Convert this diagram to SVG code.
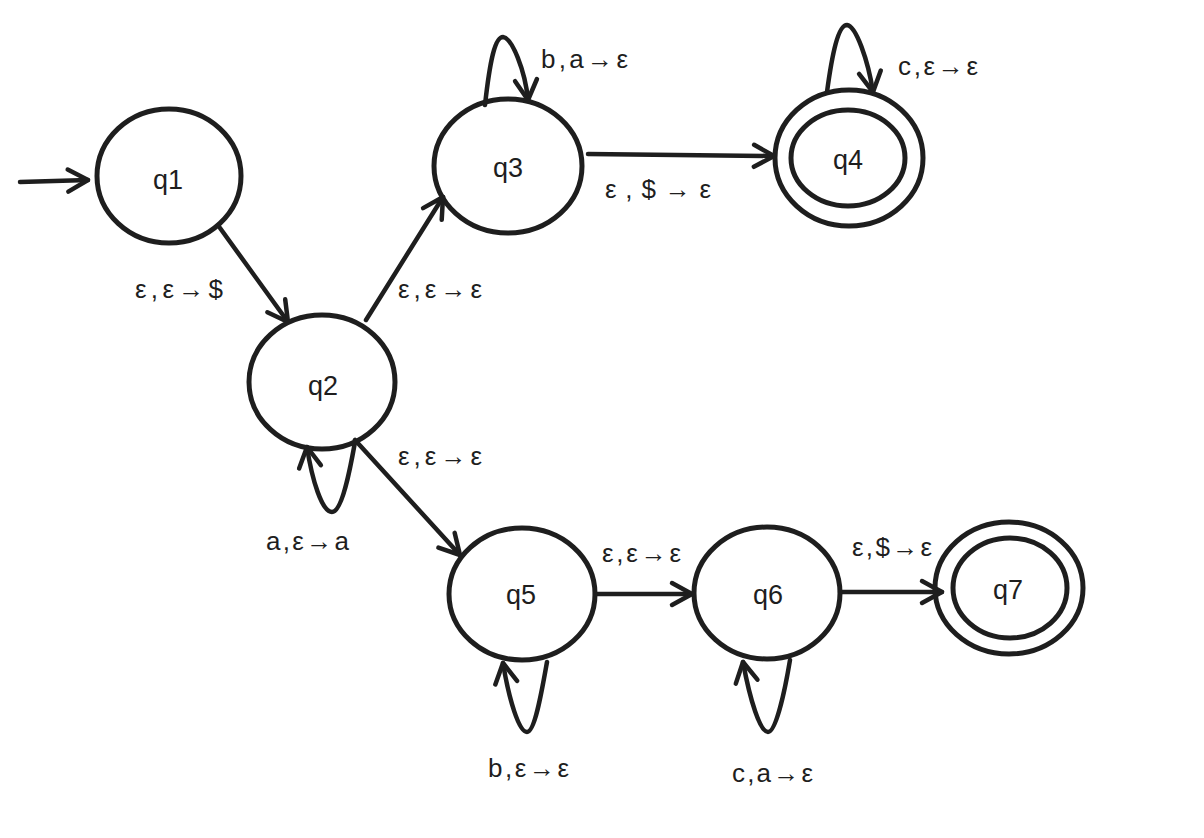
<svg xmlns="http://www.w3.org/2000/svg" width="1204" height="838" viewBox="0 0 1204 838">
<style>
.st{fill:none;stroke:#1e1e1e;stroke-width:5}
.e{fill:none;stroke:#1e1e1e;stroke-width:4.5;stroke-linecap:round;marker-end:url(#ah)}
.t{font-family:"Liberation Sans","DejaVu Sans",sans-serif;font-size:27px;fill:#1e1e1e;text-anchor:middle}
.l{font-family:"Liberation Sans","DejaVu Sans",sans-serif;font-size:26px;fill:#1e1e1e}
</style>
<defs>
<marker id="ah" markerUnits="userSpaceOnUse" viewBox="-2 -2 26 28" refX="22" refY="12" markerWidth="26" markerHeight="28" orient="auto" overflow="visible">
<path d="M2,1 L22,12 L2,23" fill="none" stroke="#1e1e1e" stroke-width="4.5" stroke-linecap="round" stroke-linejoin="round"/>
</marker>
</defs>
<rect width="1204" height="838" fill="#ffffff"/>
<g id="connectors">
<path class="e" d="M20,182 L88,180"/>
<path class="e" d="M220,228 L288,322"/>
<path class="e" d="M366,320 L443,197"/>
<path class="e" d="M588,154 L774,156"/>
<path class="e" d="M355,440 L460,555"/>
<path class="e" d="M595,594 L692,594"/>
<path class="e" d="M840,592 L942,592"/>
<path class="e" d="M485,105 C490,60 495,37 503,37 C512,38 525,70 528,100"/>
<path class="e" d="M827,92 C832,55 838,25 847,25 C856,26 868,60 873,92"/>
<path class="e" d="M355,442 C350,470 342,512 332,512 C322,512 312,480 307,447"/>
<path class="e" d="M547,662 C542,690 535,732 527,732 C519,732 509,700 503,663"/>
<path class="e" d="M790,660 C785,690 776,732 768,732 C760,732 750,700 743,662"/>
<text class="l" x="135" y="298" textLength="88" lengthAdjust="spacing">ε,ε→$</text>
<text class="l" x="398" y="298" textLength="84" lengthAdjust="spacing">ε,ε→ε</text>
<text class="l" x="541" y="68" textLength="87" lengthAdjust="spacing">b,a→ε</text>
<text class="l" x="605" y="198" textLength="106" lengthAdjust="spacing">ε,$→ε</text>
<text class="l" x="898" y="75" textLength="80" lengthAdjust="spacing">c,ε→ε</text>
<text class="l" x="398" y="465" textLength="84" lengthAdjust="spacing">ε,ε→ε</text>
<text class="l" x="266" y="550" textLength="83" lengthAdjust="spacing">a,ε→a</text>
<text class="l" x="602" y="562" textLength="79" lengthAdjust="spacing">ε,ε→ε</text>
<text class="l" x="488" y="777" textLength="81" lengthAdjust="spacing">b,ε→ε</text>
<text class="l" x="732" y="782" textLength="81" lengthAdjust="spacing">c,a→ε</text>
<text class="l" x="852" y="556" textLength="80" lengthAdjust="spacing">ε,$→ε</text>
</g>
<g id="q1"><ellipse class="st" cx="169" cy="176" rx="72" ry="67"/><text class="t" x="168" y="189">q1</text></g>
<g id="q2"><ellipse class="st" cx="322" cy="382" rx="73" ry="67"/><text class="t" x="323" y="395">q2</text></g>
<g id="q3"><ellipse class="st" cx="508" cy="166" rx="74" ry="67"/><text class="t" x="508" y="177">q3</text></g>
<g id="q4"><ellipse class="st" cx="849" cy="158" rx="74" ry="68"/><ellipse class="st" cx="848" cy="158" rx="57" ry="48"/><text class="t" x="848" y="169">q4</text></g>
<g id="q5"><ellipse class="st" cx="522" cy="594" rx="73" ry="66"/><text class="t" x="521" y="604">q5</text></g>
<g id="q6"><ellipse class="st" cx="767" cy="593" rx="73" ry="66"/><text class="t" x="768" y="604">q6</text></g>
<g id="q7"><ellipse class="st" cx="1009" cy="588" rx="74" ry="66"/><ellipse class="st" cx="1010" cy="588" rx="57" ry="50"/><text class="t" x="1008" y="599">q7</text></g>
</svg>
